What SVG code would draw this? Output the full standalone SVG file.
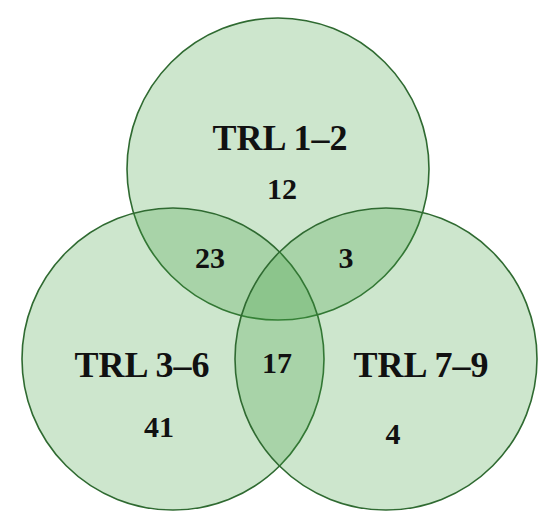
<svg xmlns="http://www.w3.org/2000/svg" width="550" height="522" viewBox="0 0 550 522">
  <style>
    .set { fill: rgb(60,160,60); fill-opacity: 0.26; stroke: #2f6a31; stroke-width: 1.6; }
    .title { font-family: "Liberation Serif", "Times New Roman", serif; font-weight: bold; font-size: 36px; fill: #111; text-anchor: middle; }
    .num { font-family: "Liberation Serif", "Times New Roman", serif; font-weight: bold; font-size: 30px; fill: #111; text-anchor: middle; }
  </style>
  <rect width="550" height="522" fill="#ffffff"/>
  <g id="trl12">
    <circle class="set" cx="278" cy="169" r="151"/>
  </g>
  <g id="trl36">
    <circle class="set" cx="173" cy="359" r="151"/>
  </g>
  <g id="trl79">
    <circle class="set" cx="386" cy="359" r="151"/>
  </g>
  <g id="connectors"/>
  <g id="labels">
    <text class="title" x="280" y="150">TRL 1–2</text>
    <text class="num" x="282" y="199">12</text>
    <text class="num" x="210" y="268">23</text>
    <text class="num" x="346" y="268">3</text>
    <text class="title" x="142" y="377">TRL 3–6</text>
    <text class="num" x="277" y="373">17</text>
    <text class="title" x="421" y="377">TRL 7–9</text>
    <text class="num" x="159" y="437">41</text>
    <text class="num" x="393" y="444">4</text>
  </g>
</svg>
